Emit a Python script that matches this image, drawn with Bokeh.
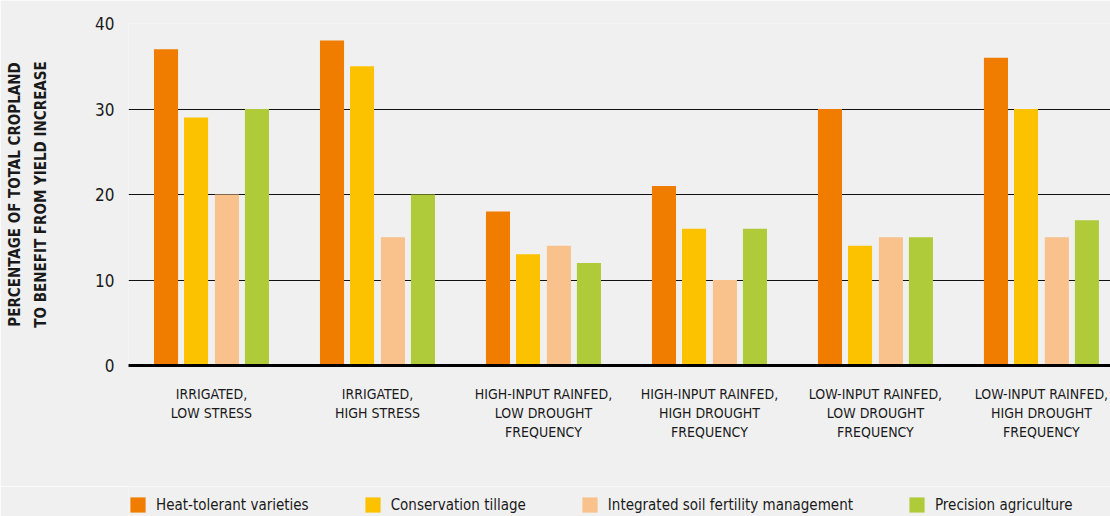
from bokeh.plotting import figure
from bokeh.models import ColumnDataSource, Legend, LegendItem, FixedTicker, Range1d
from bokeh.transform import dodge
from bokeh.layouts import column
from bokeh.embed import file_html
from bokeh.resources import INLINE

categories = [
    "IRRIGATED,\nLOW STRESS",
    "IRRIGATED,\nHIGH STRESS",
    "HIGH-INPUT RAINFED,\nLOW DROUGHT\nFREQUENCY",
    "HIGH-INPUT RAINFED,\nHIGH DROUGHT\nFREQUENCY",
    "LOW-INPUT RAINFED,\nLOW DROUGHT\nFREQUENCY",
    "LOW-INPUT RAINFED,\nHIGH DROUGHT\nFREQUENCY",
]
series = [
    "Heat-tolerant varieties",
    "Conservation tillage",
    "Integrated soil fertility management",
    "Precision agriculture",
]
heat_tolerant = [37, 38, 18, 21, 30, 36]
conservation_tillage = [29, 35, 13, 16, 14, 30]
soil_fertility = [20, 15, 14, 10, 15, 15]
precision_agriculture = [30, 20, 12, 16, 15, 17]
y_ticks = [0, 10, 20, 30, 40]

colors = ["#F07D00", "#FCC200", "#F9C18B", "#B0CB39"]
offsets = [-0.274, -0.093, 0.093, 0.274]
cols = ["heat", "till", "soil", "prec"]
FONT = "'DejaVu Sans Condensed', 'Liberation Sans Narrow', sans-serif"
BG = "#F0F0F0"

src = ColumnDataSource(dict(
    x=list(range(len(categories))),
    heat=heat_tolerant,
    till=conservation_tillage,
    soil=soil_fertility,
    prec=precision_agriculture,
))

p = figure(width=1110, height=486, output_backend="svg", toolbar_location=None,
           x_range=Range1d(-0.5, 5.416), y_range=Range1d(0, 40),
           min_border_left=128, min_border_right=0, min_border_top=23, min_border_bottom=121)
p.background_fill_color = BG
p.border_fill_color = BG
p.outline_line_color = None

for col, off, c in zip(cols, offsets, colors):
    p.vbar(x=dodge("x", off, range=p.x_range), top=col, width=0.145, bottom=0,
           source=src, fill_color=c, line_color=None)

# y axis
p.yaxis.ticker = FixedTicker(ticks=y_ticks)
p.yaxis.axis_line_color = None
p.yaxis.major_tick_line_color = None
p.yaxis.minor_tick_line_color = None
p.yaxis.major_label_standoff = 8
p.yaxis.major_label_text_font = FONT
p.yaxis.major_label_text_font_size = "17px"
p.yaxis.major_label_text_color = "#1a1a1a"
p.yaxis.axis_label = "PERCENTAGE OF TOTAL CROPLAND\nTO BENEFIT FROM YIELD INCREASE"
p.yaxis.axis_label_text_font = FONT
p.yaxis.axis_label_text_font_style = "bold"
p.yaxis.axis_label_text_font_size = "15px"
p.yaxis.axis_label_text_line_height = 1.45
p.yaxis.axis_label_text_color = "#1a1a1a"
p.yaxis.axis_label_standoff = 42

p.ygrid.ticker = FixedTicker(ticks=y_ticks)
p.ygrid.grid_line_color = "#111111"
p.ygrid.grid_line_width = 1
p.xgrid.grid_line_color = None

# x axis
p.xaxis.ticker = FixedTicker(ticks=list(range(len(categories))))
p.xaxis.major_label_overrides = {i: c for i, c in enumerate(categories)}
p.xaxis.axis_line_color = "#000000"
p.xaxis.axis_line_width = 3
p.xaxis.major_tick_line_color = None
p.xaxis.minor_tick_line_color = None
p.xaxis.major_label_standoff = 14
p.xaxis.major_label_text_font = FONT
p.xaxis.major_label_text_font_size = "14px"
p.xaxis.major_label_text_color = "#1a1a1a"

# legend strip (separate small figure below the chart)
lf = figure(width=1110, height=30, output_backend="svg", toolbar_location=None,
            x_range=Range1d(-0.5, 5.416), y_range=Range1d(0, 40),
            min_border_left=128, min_border_right=0, min_border_top=0, min_border_bottom=0)
lf.background_fill_color = BG
lf.border_fill_color = BG
lf.outline_line_color = None
lf.axis.visible = False
lf.grid.visible = False
keys = []
for s, col, c in zip(series, cols, colors):
    r = lf.vbar(x="x", top=col, width=0.145, source=src, fill_color=c,
                line_color=None, visible=False)
    keys.append(LegendItem(label=s, renderers=[r]))

legend = Legend(items=keys, orientation="horizontal", location=(0, 2))
legend.background_fill_alpha = 0
legend.border_line_color = None
legend.glyph_width = 19
legend.glyph_height = 19
legend.label_height = 19
legend.label_standoff = 9
legend.spacing = 54
legend.margin = 0
legend.padding = 0
legend.label_text_font = FONT
legend.label_text_font_size = "15px"
legend.label_text_color = "#1a1a1a"
lf.add_layout(legend, "center")

open("out.html", "w").write(file_html(column(p, lf, spacing=0), INLINE))
